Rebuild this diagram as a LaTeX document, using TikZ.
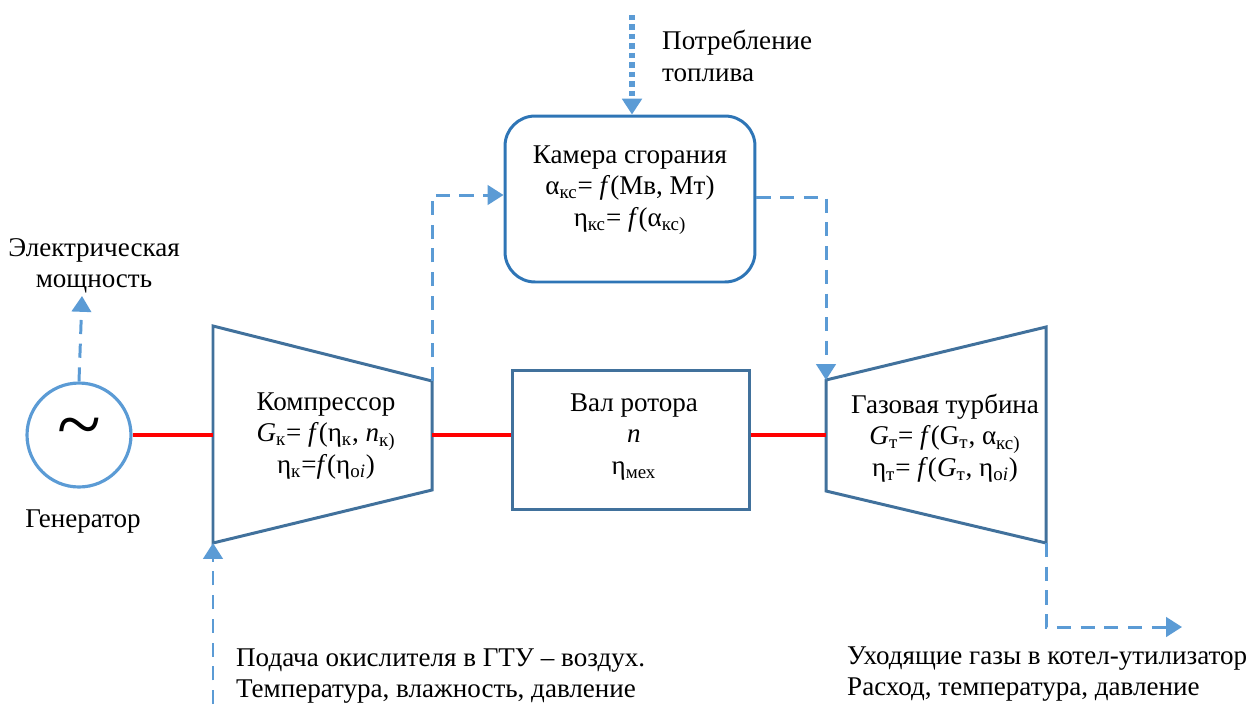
\documentclass[tikz,border=0pt]{standalone}
\usepackage{fontspec}
\setmainfont{Liberation Serif}
\usepackage{tikz}
\usetikzlibrary{positioning,arrows.meta}

\definecolor{lblue}{HTML}{5B9BD5}
\definecolor{sblue}{HTML}{41719C}
\definecolor{cblue}{HTML}{2E75B6}
\newcommand{\ix}[1]{\textsubscript{#1}}
\newcommand{\fx}{\textit{f}}

\begin{document}
\begin{tikzpicture}[x=0.02cm,y=-0.02cm,>={Triangle[length=9pt,width=11pt]},
  every node/.style={font=\fontsize{15.4}{18}\selectfont,align=center},
  unit/.style={draw=sblue,line width=1.7pt},
  flow/.style={->,draw=lblue,line width=1.7pt,dash pattern=on 8pt off 5.5pt,color=lblue},
  fuelflow/.style={->,draw=lblue,line width=3pt,dash pattern=on 3pt off 2.4pt,color=lblue},
  shaft/.style={draw=red,line width=2.8pt}]
\useasboundingbox (0,0) rectangle (1253,704);

% generator
\node (gen) [circle,draw=lblue,line width=1.8pt,minimum size=2.08cm,inner sep=0pt]
  at (79,435) {\fontsize{46}{46}\selectfont\raisebox{-0.12em}{\~{}}};
\node (genlab) at (83,522) {Генератор};
\node (elec) at (94,266) {Электрическая\\мощность};
\coordinate (electip) at (82,296);

% compressor
\coordinate (k1) at (213,326);
\coordinate (k2) at (432,381);
\coordinate (k3) at (432,490);
\coordinate (k4) at (213,543);
\coordinate (kin) at (213,435);
\coordinate (kout) at (432,435);
\draw[unit] (k1) -- (k2) -- (k3) -- (k4) -- cycle;
\node (komp) at (326,436) {Компрессор\\\textit{G}\ix{к}= \fx(η\ix{к}, \textit{n}\ix{к)}\\η\ix{к}=\fx(η\ix{o\textit{i}})};

% rotor shaft
\node (val) [unit,minimum width=4.76cm,minimum height=2.78cm] at (631,440) {};
\node (vallab) at (634,437) {Вал ротора\\\textit{n}\\η\ix{мех}};

% gas turbine
\coordinate (t1) at (826,380);
\coordinate (t2) at (1046,327);
\coordinate (t3) at (1046,543);
\coordinate (t4) at (826,491);
\coordinate (tin) at (826,435);
\draw[unit] (t1) -- (t2) -- (t3) -- (t4) -- cycle;
\node (turb) at (945,438) {Газовая турбина\\\textit{G}\ix{т}= \fx(G\ix{т}, α\ix{кс)}\\η\ix{т}= \fx(\textit{G}\ix{т}, η\ix{o\textit{i}})};

% combustion chamber
\node (kam) [draw=cblue,line width=1.7pt,rounded corners=0.6cm,minimum width=5cm,
  minimum height=3.32cm] at (630,199) {};
\node (kamlab) at (630,190) {Камера сгорания\\α\ix{кс}= \fx(Мв, Мт)\\η\ix{кс}= \fx(α\ix{кс)}};
\node (fuel) [anchor=west,align=left] at (656,56) {Потребление\\топлива};
\coordinate (fueltop) at (632,15);

% inputs and outputs
\node (air) [anchor=west,align=left] at (230,676) {Подача окислителя в ГТУ – воздух.\\Температура, влажность, давление};
\coordinate (airbot) at (213,704);
\node (exh) [anchor=west,align=left] at (841,674) {Уходящие газы в котел-утилизатор\\Расход, температура, давление};
\coordinate (exhtip) at (1182,627);

\draw[shaft] (gen.east) -- (kin);
\draw[shaft] (kout) -- (kout -| val.west);
\draw[shaft] (val.east |- tin) -- (tin);

\draw[flow] (gen.north) -- (electip);
\draw[fuelflow] (fueltop) -- (fueltop |- kam.north);
\draw[flow] (k2) |- ([yshift=0.08cm]kam.west);
\draw[flow] ([yshift=0.04cm]kam.east) -| (t1);
\draw[flow] (t3) |- (exhtip);
\draw[flow] (airbot) -- (k4);
\end{tikzpicture}
\end{document}
